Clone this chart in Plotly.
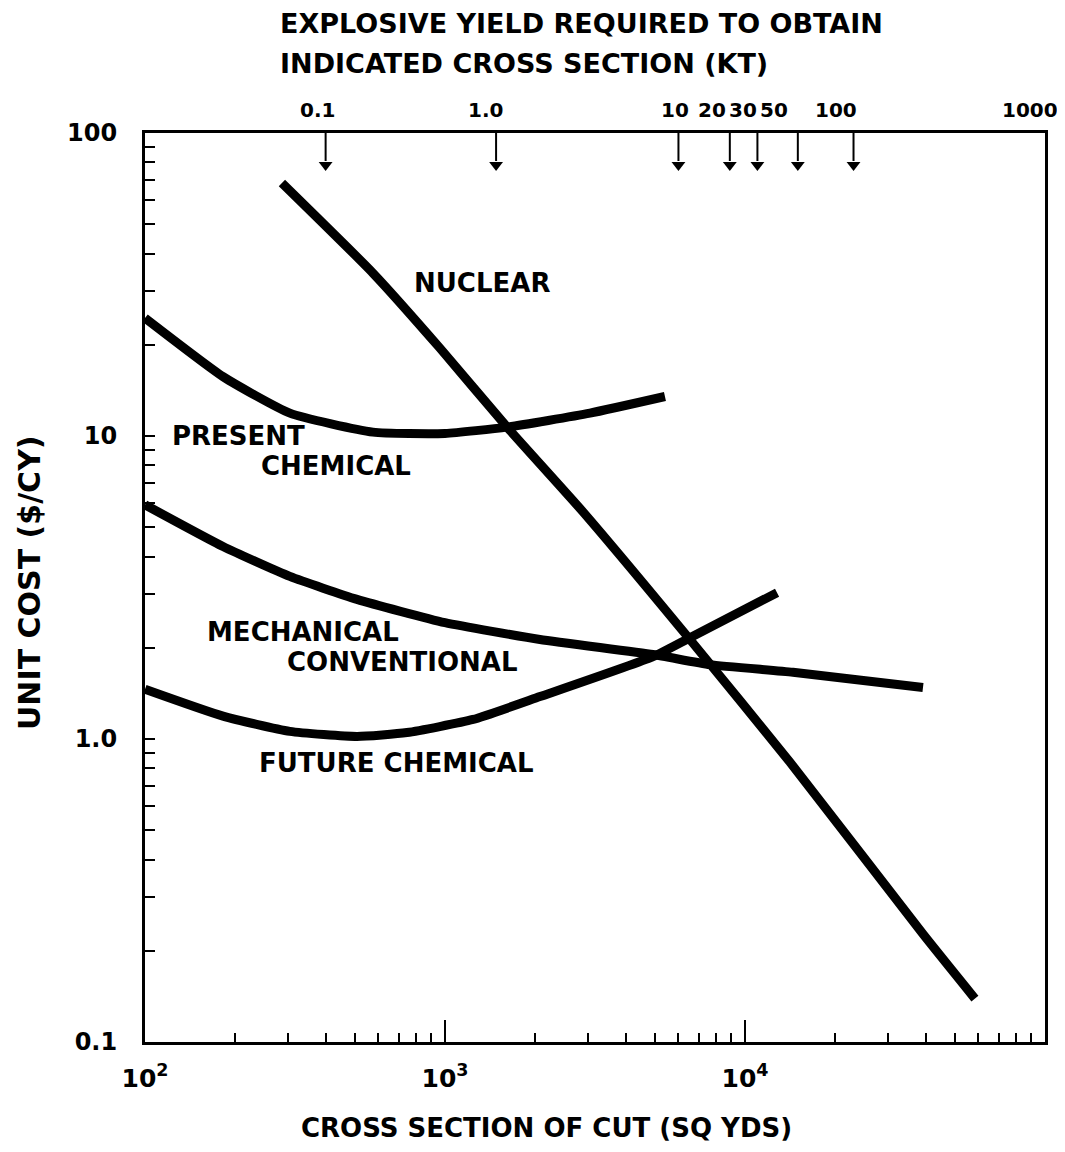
import numpy as np
import plotly.graph_objects as go

# ---------------- data ----------------
nuclear_x = [286, 575, 962, 1610, 2884, 6555, 14130, 39200, 58400]
nuclear_y = [68.4, 34.5, 19.5, 10.7, 5.62, 2.13, 0.838, 0.227, 0.139]

present_x = [100, 182, 304, 575, 1000, 1610, 3042, 5410]
present_y = [24.5, 15.7, 11.9, 10.3, 10.2, 10.7, 11.9, 13.5]

mechanical_x = [100, 182, 304, 509, 1000, 2073, 4935, 7640, 14450, 39200]
mechanical_y = [5.93, 4.32, 3.44, 2.89, 2.42, 2.13, 1.90, 1.76, 1.66, 1.48]

future_x = [100, 182, 304, 509, 747, 1240, 2073, 4935, 6555, 12790]
future_y = [1.46, 1.19, 1.06, 1.02, 1.05, 1.16, 1.38, 1.87, 2.16, 3.04]

# explosive yield (kt) arrows on the top edge and their cross-section positions
yield_kt_labels = ["0.1", "1.0", "10", "20", "30", "50", "100"]
yield_arrow_x = [400, 1480, 6000, 8900, 11000, 15000, 23000]
yield_label_x = [377, 1360, 5840, 7760, 9850, 12500, 20100]
extra_top_label = "1000"

x_tickvals = [100, 1000, 10000, 100000]
x_ticktext = ["10<sup>2</sup>", "10<sup>3</sup>", "10<sup>4</sup>", "10<sup>5</sup>"]
y_tickvals = [0.1, 1, 10, 100]
y_ticktext = ["0.1", "1.0", "10", "100"]

curve_labels = ["NUCLEAR", "PRESENT", "CHEMICAL", "MECHANICAL", "CONVENTIONAL", "FUTURE CHEMICAL"]

# ---------------- figure ----------------
FONT = "DejaVu Sans"
OFF = 8                       # page body margin
L, R, T, B = 145 - OFF, 20, 133 - OFF, 110
W, H = 1065 - OFF, 1152 - OFF
PW, PH = W - L - R, H - T - B   # 900 x 909
PX_PER_DECADE_Y = PH / 3.0

fig = go.Figure()
for xs, ys in [(nuclear_x, nuclear_y), (present_x, present_y),
               (mechanical_x, mechanical_y), (future_x, future_y)]:
    fig.add_trace(go.Scatter(x=xs, y=ys, mode="lines",
                             line=dict(color="black", width=9, shape="spline", smoothing=0.5),
                             showlegend=False, hoverinfo="skip"))

# yield arrows hanging from the top edge (shaft + narrow head)
top_val = 100.0
shaft_end = 10 ** (2 - 28 / PX_PER_DECADE_Y)
head_val = 10 ** (2 - 32 / PX_PER_DECADE_Y)
ax_line, ay_line = [], []
for xv in yield_arrow_x:
    ax_line += [xv, xv, None]
    ay_line += [top_val, shaft_end, None]
fig.add_trace(go.Scatter(x=ax_line, y=ay_line, mode="lines",
                         line=dict(color="black", width=2),
                         showlegend=False, hoverinfo="skip", cliponaxis=False))
fig.add_trace(go.Scatter(x=yield_arrow_x, y=[head_val] * len(yield_arrow_x), mode="markers",
                         marker=dict(symbol="triangle-down", size=12, color="black",
                                     line=dict(width=0)),
                         showlegend=False, hoverinfo="skip", cliponaxis=False))

def minor_vals(lo, hi):
    out = []
    for e in range(lo, hi):
        for m in range(2, 10):
            out.append(m * 10 ** e)
    return out

fig.update_xaxes(type="log", range=[2, 5], showgrid=False, zeroline=False,
                 showline=True, linecolor="black", linewidth=2.5, mirror=True,
                 ticks="inside", ticklen=22, tickwidth=1.5, tickcolor="black",
                 tickmode="array", tickvals=x_tickvals, ticktext=x_ticktext,
                 ticklabelstandoff=12,
                 tickfont=dict(family=FONT, size=25, color="black", weight="bold"),
                 minor=dict(tickmode="array", tickvals=minor_vals(2, 5), ticks="inside",
                            ticklen=9, tickwidth=1.5, tickcolor="black", showgrid=False))
fig.update_yaxes(type="log", range=[-1, 2], showgrid=False, zeroline=False,
                 showline=True, linecolor="black", linewidth=3, mirror=True,
                 ticks="inside", ticklen=10, tickwidth=1.5, tickcolor="black",
                 tickmode="array", tickvals=y_tickvals, ticktext=y_ticktext,
                 ticklabelstandoff=20,
                 tickfont=dict(family=FONT, size=24, color="black", weight="bold"),
                 minor=dict(tickmode="array", tickvals=minor_vals(-1, 2), ticks="inside",
                            ticklen=10, tickwidth=1.5, tickcolor="black", showgrid=False))

def px_to_paper(px, py):
    # reference-image pixel -> paper coords (plot area spans 145..1045, 133..1042)
    return (px - 145) / PW, (1042 - py) / PH

ann = []
# top yield labels
for lab, xv in zip(yield_kt_labels, yield_label_x):
    ann.append(dict(x=np.log10(xv), y=1.0, xref="x", yref="paper", yanchor="bottom",
                    yshift=9, text=lab, showarrow=False,
                    font=dict(family=FONT, size=20, color="black", weight="bold")))
xp, _ = px_to_paper(1060, 0)
ann.append(dict(x=xp, y=1.0, xref="paper", yref="paper", xanchor="right", yanchor="bottom",
                yshift=9, text=extra_top_label, showarrow=False,
                font=dict(family=FONT, size=20, color="black", weight="bold")))

# curve labels (reference pixel positions)
label_pos = [(482, 283, "center"), (170, 436, "left"), (336, 466, "center"),
             (303, 632, "center"), (402, 662, "center"), (396, 763, "center")]
for lab, (px, py, anc) in zip(curve_labels, label_pos):
    xp, yp = px_to_paper(px, py)
    ann.append(dict(x=xp, y=yp, xref="paper", yref="paper", text=lab,
                    showarrow=False, xanchor=anc, yanchor="middle",
                    font=dict(family=FONT, size=26, color="black", weight="bold")))
# top title
for txt, py in [("EXPLOSIVE YIELD REQUIRED TO OBTAIN", 24),
                ("INDICATED CROSS SECTION (KT)", 63)]:
    xp, yp = px_to_paper(278, py)
    ann.append(dict(x=xp, y=yp, xref="paper", yref="paper", text=txt, showarrow=False,
                    xanchor="left", yanchor="middle",
                    font=dict(family=FONT, size=27, color="black", weight="bold")))
# x title
xp, yp = px_to_paper(546, 1128)
ann.append(dict(x=xp, y=yp, xref="paper", yref="paper", text="CROSS SECTION OF CUT (SQ YDS)",
                showarrow=False, xanchor="center", yanchor="middle",
                font=dict(family=FONT, size=26, color="black", weight="bold")))
# y title
xp, yp = px_to_paper(29, 583)
ann.append(dict(x=xp, y=yp, xref="paper", yref="paper", text="UNIT COST ($/CY)",
                showarrow=False, textangle=-90, xanchor="center", yanchor="middle",
                font=dict(family=FONT, size=30, color="black", weight="bold")))

fig.update_layout(width=W, height=H, margin=dict(l=L, r=R, t=T, b=B),
                  paper_bgcolor="white", plot_bgcolor="white",
                  annotations=ann, showlegend=False)

fig.write_html("out.html")
